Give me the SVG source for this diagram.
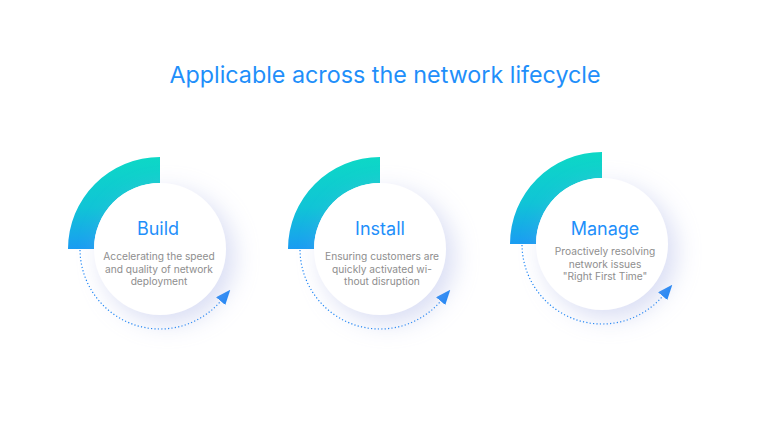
<svg xmlns="http://www.w3.org/2000/svg" width="768" height="432" viewBox="0 0 768 432">
<defs>
<linearGradient id="g" x1="0" y1="0" x2="0" y2="1">
<stop offset="0" stop-color="#0dd8c6"/>
<stop offset="0.55" stop-color="#10c4d6"/>
<stop offset="1" stop-color="#1a9cf2"/>
</linearGradient>
<filter id="sh" x="-50%" y="-50%" width="200%" height="200%">
<feDropShadow dx="8" dy="8" stdDeviation="12" flood-color="#aab3e6" flood-opacity="0.45"/>
</filter>
<marker id="ah" markerUnits="userSpaceOnUse" markerWidth="15" markerHeight="12" viewBox="0 0 15 12" refX="1" refY="6" orient="auto">
<path d="M0,0 L15,6 L0,12 z" fill="#1a84f5"/>
</marker>
</defs>
<style>
.title{font-family:Inter,"Liberation Sans",sans-serif;font-size:23.3px;fill:#1f8ffa;text-anchor:middle}
.h{font-family:Inter,"Liberation Sans",sans-serif;font-size:18px;fill:#1f8ffa;text-anchor:middle}
.d{font-family:Inter,"Liberation Sans",sans-serif;font-size:10.2px;fill:#8e8e8e;text-anchor:middle}
.arc{fill:url(#g)}
.disc{fill:#ffffff;filter:url(#sh)}
.dot{fill:none;stroke:#1a84f5;stroke-width:1.2;stroke-dasharray:1.2 2.2;marker-end:url(#ah)}
</style>
<rect width="768" height="432" fill="#ffffff"/>
<text class="title" x="385" y="83">Applicable across the network lifecycle</text>

<g id="connectors">
<path class="dot" d="M80,250 A80,80 0 0 0 221.3,300.4"/>
<path class="dot" d="M300,250 A80,80 0 0 0 441.3,300.4"/>
<path class="dot" d="M522,245 A80,80 0 0 0 663.3,295.4"/>
</g>

<g id="build">
<path class="arc" d="M68,249 A92,92 0 0 1 160,157 L160,183 A66,66 0 0 0 94,249 Z"/>
<circle class="disc" cx="160" cy="249" r="66"/>
<text class="h" x="158" y="235">Build</text>
<text class="d" x="159" y="260">Accelerating the speed</text>
<text class="d" x="159" y="272.5">and quality of network</text>
<text class="d" x="159" y="285">deployment</text>
</g>

<g id="install">
<path class="arc" d="M288,249 A92,92 0 0 1 380,157 L380,183 A66,66 0 0 0 314,249 Z"/>
<circle class="disc" cx="380" cy="249" r="66"/>
<text class="h" x="380" y="235">Install</text>
<text class="d" x="382" y="260">Ensuring customers are</text>
<text class="d" x="382" y="272.5">quickly activated wi-</text>
<text class="d" x="382" y="285">thout disruption</text>
</g>

<g id="manage">
<path class="arc" d="M510,244 A92,92 0 0 1 602,152 L602,178 A66,66 0 0 0 536,244 Z"/>
<circle class="disc" cx="602" cy="244" r="66"/>
<text class="h" x="605" y="235">Manage</text>
<text class="d" x="605" y="255">Proactively resolving</text>
<text class="d" x="605" y="267.5">network issues</text>
<text class="d" x="605" y="280">"Right First Time"</text>
</g>
</svg>
